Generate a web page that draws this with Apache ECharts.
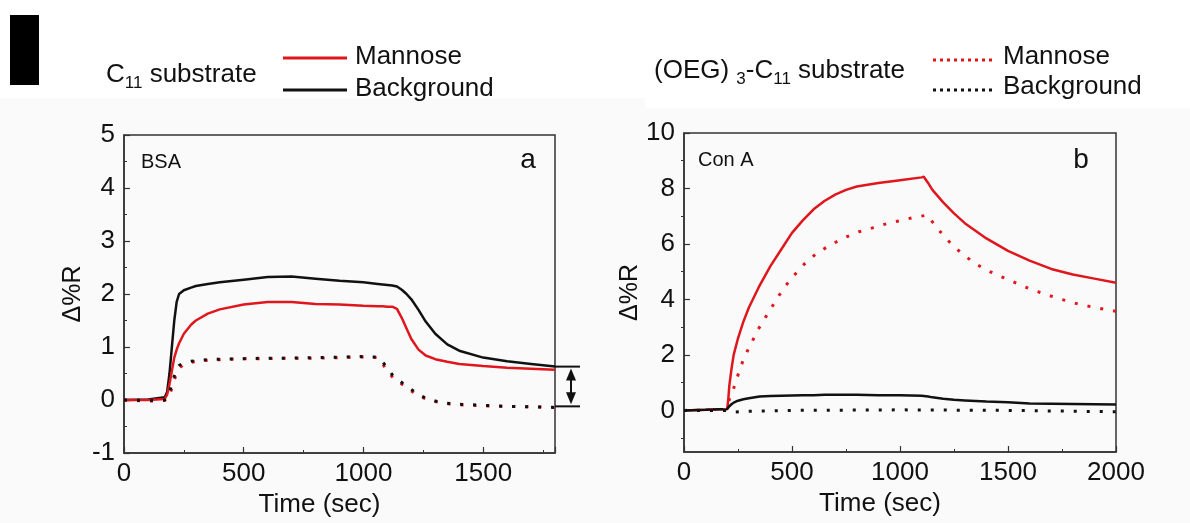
<!DOCTYPE html>
<html><head><meta charset="utf-8">
<script src="https://cdn.jsdelivr.net/npm/echarts@6/dist/echarts.min.js"></script>
<style>html,body{margin:0;padding:0;background:#fff}#c{width:1190px;height:523px}</style>
</head><body><div id="c"></div>
<script>
// ---------- Panel a (BSA) ----------
const timeA = [0,100,170,180,190,200,210,220,230,250,280,300,350,400,500,600,700,800,900,1000,1060,1080,1100,1120,1140,1160,1180,1200,1230,1260,1300,1350,1400,1500,1600,1700,1800];
const bsaC11Background = [0,0.01,0.05,0.15,0.5,1.0,1.5,1.85,2.0,2.07,2.12,2.15,2.19,2.22,2.27,2.32,2.33,2.29,2.25,2.22,2.19,2.18,2.17,2.16,2.14,2.08,2.0,1.9,1.7,1.48,1.25,1.05,0.93,0.8,0.73,0.68,0.63];
const bsaC11Mannose = [0,0,0.02,0.1,0.3,0.55,0.8,0.95,1.07,1.25,1.42,1.5,1.63,1.71,1.8,1.85,1.85,1.81,1.8,1.78,1.77,1.77,1.76,1.76,1.72,1.55,1.35,1.15,0.95,0.84,0.77,0.72,0.68,0.64,0.61,0.59,0.57];
const bsaOegBackground = [0,-0.01,0,0.05,0.15,0.3,0.45,0.58,0.65,0.7,0.73,0.74,0.76,0.77,0.78,0.79,0.79,0.8,0.81,0.82,0.81,0.72,0.6,0.48,0.4,0.33,0.27,0.2,0.1,0.04,-0.02,-0.06,-0.08,-0.1,-0.12,-0.13,-0.14];
const bsaOegMannose = [0,-0.02,-0.01,0.02,0.1,0.22,0.38,0.5,0.6,0.67,0.71,0.73,0.75,0.76,0.78,0.78,0.79,0.79,0.8,0.81,0.8,0.68,0.55,0.44,0.36,0.3,0.24,0.17,0.08,0.02,-0.03,-0.07,-0.09,-0.11,-0.12,-0.13,-0.14];
const arrowLevelsA = [0.63, -0.12];

// ---------- Panel b (Con A) ----------
const timeB = [0,100,200,205,210,220,230,250,275,300,350,400,450,500,550,600,650,700,750,800,900,1000,1100,1110,1130,1150,1200,1250,1300,1400,1500,1600,1700,1800,1900,2000];
const conAC11Mannose = [0,0.02,0.05,0.4,0.9,1.5,2.0,2.6,3.2,3.7,4.5,5.2,5.8,6.4,6.85,7.25,7.55,7.78,7.95,8.07,8.2,8.3,8.4,8.42,8.2,7.95,7.5,7.1,6.75,6.2,5.75,5.4,5.1,4.9,4.75,4.6];
const conAC11Background = [0,0.02,0.05,0.1,0.15,0.22,0.28,0.35,0.4,0.44,0.5,0.52,0.53,0.54,0.55,0.55,0.56,0.56,0.56,0.56,0.55,0.55,0.53,0.52,0.5,0.47,0.42,0.38,0.36,0.32,0.29,0.25,0.24,0.23,0.22,0.21];
const timeBDot = [0,100,200,205,210,220,230,256,278,309,341,380,418,460,506,560,617,684,745,810,873,938,1000,1066,1126,1173,1228,1285,1347,1402,1469,1604,1722,1840,2000];
const conAOegMannose = [0,0.01,0.03,0.2,0.4,0.6,0.8,1.42,1.9,2.38,2.89,3.39,3.87,4.39,4.84,5.3,5.68,5.99,6.23,6.44,6.58,6.73,6.84,6.96,7.04,6.56,6.08,5.66,5.3,5.05,4.82,4.37,4.06,3.8,3.57];
const timeBDotBg = [0,200,230,300,500,1000,1500,2000];
const conAOegBackground = [0,0,-0.06,-0.03,0,0.02,0,-0.05];

// ---------- Axis ticks ----------
const xTicksA = {min:0, max:1800, interval:500};
const yTicksA = {min:-1, max:5, interval:1};
const xTicksB = {min:0, max:2000, interval:500};
const yRangeB = {min:-1.5, max:10};
const yMajorB = [0,2,4,6,8,10];
const yMinorB = [-1,1,3,5,7,9];

const RED = '#e0161d', BLACK = '#111111', AXIS = '#333333';
const FONT = 'Liberation Sans';
const zip = (t, v) => t.map((x, i) => [x, v[i]]);
const plain = v => String(v);

function xAxisCfg(grid, r) {
  return {
    gridIndex: grid, type: 'value', min: r.min, max: r.max, interval: r.interval,
    axisLine: {show: true, onZero: false, lineStyle: {color: AXIS, width: 1.5}},
    axisTick: {show: true, inside: true, length: 6, lineStyle: {color: AXIS, width: 1.2}},
    minorTick: {show: true, splitNumber: 2, length: 3, lineStyle: {color: AXIS, width: 1}},
    axisLabel: {fontFamily: FONT, fontSize: 26, color: '#111', margin: 8, formatter: plain,
      showMaxLabel: r.max % r.interval === 0},
    splitLine: {show: false},
    name: 'Time (sec)', nameLocation: 'middle', nameGap: 34,
    nameTextStyle: {fontFamily: FONT, fontSize: 26, color: '#111', padding: [0, 40, 0, 0]}
  };
}
const yName = {name: 'Δ%R', nameLocation: 'middle', nameGap: 38,
  nameTextStyle: {fontFamily: FONT, fontSize: 25, color: '#111'}};

const solid = (name, data, color, xi) => ({
  name, type: 'line', xAxisIndex: xi, yAxisIndex: xi === 0 ? 0 : 1, data,
  symbol: 'none', silent: true, lineStyle: {color, width: 2.5}, z: 3
});
const dotted = (name, data, color, xi) => ({
  name, type: 'line', xAxisIndex: xi, yAxisIndex: xi === 0 ? 0 : 1, data,
  symbol: 'none', silent: true, lineStyle: {color, width: 3, type: [3, 10]}, z: 4
});

const chart = echarts.init(document.getElementById('c'), null, {renderer: 'canvas'});
const option = {
  backgroundColor: '#fafafa',
  animation: false,
  textStyle: {fontFamily: FONT},
  grid: [
    {left: 124, top: 135, width: 431, height: 318, show: true, borderColor: AXIS, borderWidth: 1.5, backgroundColor: 'transparent'},
    {left: 684, top: 133, width: 432, height: 319, show: true, borderColor: AXIS, borderWidth: 1.5, backgroundColor: 'transparent'}
  ],
  xAxis: [xAxisCfg(0, xTicksA), xAxisCfg(1, xTicksB)],
  yAxis: [
    Object.assign({
      gridIndex: 0, type: 'value', min: yTicksA.min, max: yTicksA.max, interval: yTicksA.interval,
      axisLine: {show: true, onZero: false, lineStyle: {color: AXIS, width: 1.5}},
      axisTick: {show: true, inside: true, length: 6, lineStyle: {color: AXIS, width: 1.2}},
      minorTick: {show: true, splitNumber: 2, length: 3, lineStyle: {color: AXIS, width: 1}},
      axisLabel: {fontFamily: FONT, fontSize: 26, color: '#111', margin: 9, formatter: plain},
      splitLine: {show: false}
    }, yName),
    Object.assign({
      gridIndex: 1, type: 'value', min: yRangeB.min, max: yRangeB.max,
      axisLine: {show: true, onZero: false, lineStyle: {color: AXIS, width: 1.5}},
      axisTick: {show: true, inside: true, length: 6, customValues: yMajorB, lineStyle: {color: AXIS, width: 1.2}},
      axisLabel: {fontFamily: FONT, fontSize: 26, color: '#111', margin: 9, customValues: yMajorB, formatter: plain},
      splitLine: {show: false}
    }, yName),
    {
      gridIndex: 1, type: 'value', min: yRangeB.min, max: yRangeB.max,
      axisLine: {show: false},
      axisTick: {show: true, inside: true, length: 3, customValues: yMinorB, lineStyle: {color: AXIS, width: 1}},
      axisLabel: {show: false},
      splitLine: {show: false}
    }
  ],
  series: [
    solid('C11 Background (BSA)', zip(timeA, bsaC11Background), BLACK, 0),
    solid('C11 Mannose (BSA)', zip(timeA, bsaC11Mannose), RED, 0),
    dotted('OEG Mannose (BSA)', zip(timeA, bsaOegMannose), RED, 0),
    dotted('OEG Background (BSA)', zip(timeA, bsaOegBackground), BLACK, 0),
    solid('C11 Mannose (Con A)', zip(timeB, conAC11Mannose), RED, 1),
    solid('C11 Background (Con A)', zip(timeB, conAC11Background), BLACK, 1),
    dotted('OEG Mannose (Con A)', zip(timeBDot, conAOegMannose), RED, 1),
    dotted('OEG Background (Con A)', zip(timeBDotBg, conAOegBackground), BLACK, 1)
  ]
};
chart.setOption(option);

// ---------- Decorations: header, legends, panel labels, arrow ----------
const txt = (x, y, text, size, extra) => ({type: 'text', x, y, silent: true,
  style: Object.assign({text, fontFamily: FONT, fontSize: size, fill: '#111', verticalAlign: 'middle'}, extra || {})});
const hline = (x1, x2, y, color, dash) => ({type: 'line', silent: true,
  shape: {x1, y1: y, x2, y2: y}, style: {stroke: color, lineWidth: 3, lineDash: dash || null}});
const richSub = {
  n: {fontFamily: FONT, fontSize: 26, fill: '#111', lineHeight: 26},
  s: {fontFamily: FONT, fontSize: 17, fill: '#111', lineHeight: 34, verticalAlign: 'bottom'}
};

const pA = chart.convertToPixel({gridIndex: 0}, [xTicksA.max, arrowLevelsA[0]]);
const pA2 = chart.convertToPixel({gridIndex: 0}, [xTicksA.max, arrowLevelsA[1]]);
const ax = pA[0] + 16;

const graphics = [
  {type: 'rect', silent: true, z: -10, shape: {x: 0, y: 0, width: 645, height: 98}, style: {fill: '#ffffff'}},
  {type: 'rect', silent: true, z: -10, shape: {x: 645, y: 0, width: 545, height: 108}, style: {fill: '#ffffff'}},
  {type: 'rect', silent: true, shape: {x: 10, y: 15, width: 29, height: 70}, style: {fill: '#000'}},
  // legend a
  {type: 'text', x: 106, y: 75, silent: true, style: {text: '{n|C}{s|11}{n| substrate}', rich: richSub, verticalAlign: 'middle'}},
  hline(283, 347, 58, RED), hline(283, 347, 90, BLACK),
  txt(355, 57, 'Mannose', 26), txt(355, 89, 'Background', 26),
  // legend b
  {type: 'text', x: 654, y: 71, silent: true, style: {text: '{n|(OEG) }{s|3}{n|-C}{s|11}{n| substrate}', rich: richSub, verticalAlign: 'middle'}},
  hline(933, 996, 60, RED, [3, 4]), hline(933, 996, 90, BLACK, [3, 4]),
  txt(1003, 57, 'Mannose', 26), txt(1003, 87, 'Background', 26),
  // panel labels
  txt(141, 162, 'BSA', 20), txt(528, 160, 'a', 28, {align: 'center'}),
  txt(698, 160, 'Con A', 20), txt(1081, 160, 'b', 28, {align: 'center'}),
  // arrow
  {type: 'line', silent: true, shape: {x1: pA[0], y1: pA[1], x2: pA[0] + 25, y2: pA[1]}, style: {stroke: '#111', lineWidth: 2}},
  {type: 'line', silent: true, shape: {x1: pA2[0], y1: pA2[1], x2: pA2[0] + 25, y2: pA2[1]}, style: {stroke: '#111', lineWidth: 2}},
  {type: 'line', silent: true, shape: {x1: ax, y1: pA[1] + 6, x2: ax, y2: pA2[1] - 6}, style: {stroke: '#111', lineWidth: 2}},
  {type: 'polygon', silent: true, shape: {points: [[ax, pA[1] + 2], [ax - 5, pA[1] + 14], [ax + 5, pA[1] + 14]]}, style: {fill: '#111'}},
  {type: 'polygon', silent: true, shape: {points: [[ax, pA2[1] - 2], [ax - 5, pA2[1] - 14], [ax + 5, pA2[1] - 14]]}, style: {fill: '#111'}}
];
chart.setOption({graphic: graphics});
</script></body></html>
